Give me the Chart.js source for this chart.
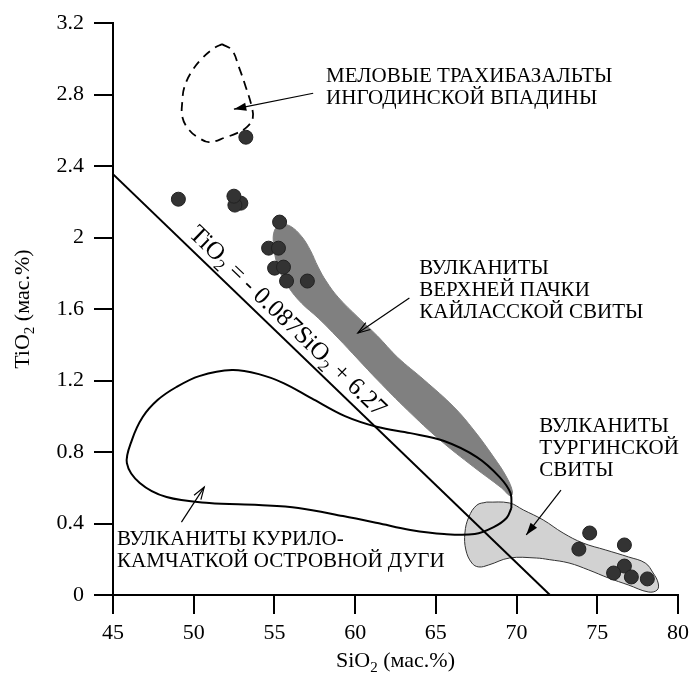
<!DOCTYPE html>
<html>
<head>
<meta charset="utf-8">
<script src="https://cdn.jsdelivr.net/npm/chart.js@4.4.0/dist/chart.umd.min.js"></script>
<style>
  html, body { margin: 0; background: #fff; }
  #wrap { width: 695px; height: 676px; }
</style>
</head>
<body>
<div id="wrap"><canvas id="chart"></canvas></div>
<script>
// оси
const xTicks = [45, 50, 55, 60, 65, 70, 75, 80];
const yTicks = [0, 0.4, 0.8, 1.2, 1.6, 2, 2.4, 2.8, 3.2];

// точки анализов (SiO2, TiO2)
const dotSiO2 = [53.23, 49.05, 52.92, 52.55, 52.49, 55.32, 54.64, 55.25, 55.01, 55.56, 55.75, 57.04,
                 74.53, 73.86, 76.68, 76.68, 76.01, 77.11, 78.10];
const dotTiO2 = [2.562, 2.215, 2.193, 2.182, 2.232, 2.087, 1.941, 1.941, 1.829, 1.835, 1.757, 1.757,
                 0.347, 0.257, 0.280, 0.162, 0.123, 0.101, 0.090];

// линия TiO2 = -0.087SiO2 + 6.27
const lineSiO2 = [45, 72.07];
const lineTiO2 = [2.355, 0];

// меловые трахибазальты (пунктир)
const melSiO2 = [51.75, 52.37, 52.80, 53.23, 53.60, 53.66, 53.29, 52.68, 52.00, 50.96, 50.34, 49.73, 49.30, 49.30, 49.42, 49.85, 50.53, 51.26, 51.75];
const melTiO2 = [3.083, 3.049, 2.954, 2.842, 2.730, 2.669, 2.618, 2.585, 2.562, 2.534, 2.557, 2.601, 2.674, 2.769, 2.842, 2.926, 3.004, 3.060, 3.083];

// кайласская свита (темное поле)
const kaiSiO2 = [55.44, 55.99, 56.67, 57.22, 57.71, 58.20, 58.94, 60.17, 61.39, 62.62, 64.28, 66.12, 67.35, 68.58, 69.38, 69.75, 69.62,
                 69.07, 67.35, 65.26, 63.24, 61.39, 60.17, 58.94, 57.71, 56.67, 55.87, 55.25, 54.95, 55.01, 55.44];
const kaiTiO2 = [2.076, 2.064, 2.008, 1.930, 1.835, 1.757, 1.667, 1.555, 1.449, 1.331, 1.203, 1.052, 0.923, 0.772, 0.660, 0.576, 0.554,
                 0.599, 0.716, 0.867, 1.035, 1.203, 1.320, 1.438, 1.550, 1.634, 1.723, 1.829, 1.958, 2.042, 2.076];

// тургинская свита (светлое поле)
const turSiO2 = [68.15, 69.56, 70.42, 71.65, 72.88, 74.11, 75.52, 76.93, 77.97, 78.46, 78.77, 78.71, 78.16, 76.93, 75.70, 74.47,
                 73.25, 72.02, 71.22, 69.56, 68.27, 67.66, 67.23, 66.86, 66.80, 67.04, 67.54, 68.15];
const turTiO2 = [0.520, 0.515, 0.476, 0.420, 0.347, 0.291, 0.252, 0.213, 0.179, 0.123, 0.067, 0.028, 0.017, 0.056, 0.095, 0.140,
                 0.179, 0.198, 0.207, 0.207, 0.168, 0.157, 0.179, 0.252, 0.347, 0.436, 0.503, 0.520];

// курило-камчатская дуга (контур)
const kkSiO2 = [69.68, 69.38, 68.58, 67.41, 65.51, 63.42, 61.39, 59.25, 56.48, 54.03, 50.96, 48.32, 46.66, 45.86, 46.17, 46.84,
                47.76, 48.93, 50.34, 52.37, 54.03, 55.56, 57.28, 59.37, 61.39, 63.42, 65.51, 67.54, 68.95, 69.62, 69.68];
const kkTiO2 = [0.487, 0.431, 0.380, 0.341, 0.341, 0.364, 0.403, 0.442, 0.487, 0.503, 0.515, 0.548, 0.627, 0.738, 0.867, 0.996,
                1.091, 1.164, 1.225, 1.259, 1.236, 1.186, 1.102, 1.001, 0.940, 0.906, 0.862, 0.772, 0.660, 0.571, 0.487];

// подписи: [SiO2, TiO2] левого края первой строки
const notes = [
  { lines: ['МЕЛОВЫЕ ТРАХИБАЗАЛЬТЫ', 'ИНГОДИНСКОЙ ВПАДИНЫ'], at: [58.2, 2.904],
    from: [57.4, 2.808], to: [52.49, 2.719], solid: true },
  { lines: ['ВУЛКАНИТЫ', 'ВЕРХНЕЙ ПАЧКИ', 'КАЙЛАССКОЙ СВИТЫ'], at: [63.97, 1.829],
    from: [63.36, 1.662], to: [60.17, 1.466], solid: false },
  { lines: ['ВУЛКАНИТЫ', 'ТУРГИНСКОЙ', 'СВИТЫ'], at: [71.4, 0.945],
    from: [72.75, 0.587], to: [70.6, 0.336], solid: true },
  { lines: ['ВУЛКАНИТЫ КУРИЛО-', 'КАМЧАТКОЙ ОСТРОВНОЙ ДУГИ'], at: [45.25, 0.308],
    from: [49.24, 0.408], to: [50.65, 0.604], solid: false },
];
const formulaAt = 49.3;

const zip = (xs, ys) => xs.map((v, i) => ({ x: v, y: ys[i] }));
const FONT = '"Liberation Serif", "Times New Roman", serif';

function rich(ctx, runs, x, y, size, align) {
  const big = size + 'px ' + FONT, small = Math.round(size * 0.68) + 'px ' + FONT;
  let w = 0;
  for (const [t, s] of runs) { ctx.font = s ? small : big; w += ctx.measureText(t).width; }
  let cx = align === 'center' ? x - w / 2 : x;
  ctx.textAlign = 'left';
  for (const [t, s] of runs) {
    ctx.font = s ? small : big;
    ctx.fillText(t, cx, y + (s ? size * 0.22 : 0));
    cx += ctx.measureText(t).width;
  }
}

function arrow(ctx, x1, y1, x2, y2, solid) {
  const a = Math.atan2(y2 - y1, x2 - x1), L = 13, w = 0.32;
  ctx.beginPath(); ctx.moveTo(x1, y1); ctx.lineTo(x2, y2); ctx.stroke();
  const p1 = [x2 - L * Math.cos(a - w), y2 - L * Math.sin(a - w)];
  const p2 = [x2 - L * Math.cos(a + w), y2 - L * Math.sin(a + w)];
  ctx.beginPath();
  if (solid) {
    ctx.moveTo(x2, y2); ctx.lineTo(p1[0], p1[1]); ctx.lineTo(p2[0], p2[1]); ctx.closePath(); ctx.fill();
  } else {
    ctx.moveTo(p1[0], p1[1]); ctx.lineTo(x2, y2); ctx.lineTo(p2[0], p2[1]); ctx.stroke();
  }
}

const annotate = {
  id: 'annotate',
  afterDatasetsDraw(chart) {
    const { ctx, chartArea: ca, scales: { x, y } } = chart;
    ctx.save();
    ctx.fillStyle = '#000';
    ctx.strokeStyle = '#000';
    ctx.lineWidth = 1.2;
    ctx.font = '21px ' + FONT;
    ctx.textAlign = 'left';
    ctx.textBaseline = 'middle';
    for (const n of notes) {
      const px = x.getPixelForValue(n.at[0]), py = y.getPixelForValue(n.at[1]);
      n.lines.forEach((t, i) => ctx.fillText(t, px, py + i * 22));
      arrow(ctx, x.getPixelForValue(n.from[0]), y.getPixelForValue(n.from[1]),
            x.getPixelForValue(n.to[0]), y.getPixelForValue(n.to[1]), n.solid);
    }

    // подпись линии
    const x1 = x.getPixelForValue(lineSiO2[0]), y1 = y.getPixelForValue(lineTiO2[0]);
    const x2 = x.getPixelForValue(lineSiO2[1]), y2 = y.getPixelForValue(lineTiO2[1]);
    const ang = Math.atan2(y2 - y1, x2 - x1);
    const k = -0.087, b = 6.27;
    const sx = x.getPixelForValue(formulaAt), sy = y.getPixelForValue(k * formulaAt + b);
    ctx.textBaseline = 'alphabetic';
    ctx.translate(sx + 8 * Math.sin(ang), sy - 8 * Math.cos(ang));
    ctx.rotate(ang);
    rich(ctx, [['TiO', 0], ['2', 1], [' = - 0.087SiO', 0], ['2', 1], [' + 6.27', 0]], 0, 0, 25, 'left');
    ctx.restore();

    // названия осей
    ctx.save();
    ctx.fillStyle = '#000';
    ctx.textBaseline = 'alphabetic';
    rich(ctx, [['SiO', 0], ['2', 1], [' (мас.%)', 0]], (ca.left + ca.right) / 2, ca.bottom + 72, 22, 'center');
    ctx.translate(29, (ca.top + ca.bottom) / 2);
    ctx.rotate(-Math.PI / 2);
    rich(ctx, [['TiO', 0], ['2', 1], [' (мас.%)', 0]], 0, 0, 22, 'center');
    ctx.restore();
  }
};

const tickFont = { family: FONT, size: 22 };

function draw() {
  new Chart(document.getElementById('chart'), {
    type: 'scatter',
    data: {
      datasets: [
        { data: zip(dotSiO2, dotTiO2), pointRadius: 7, pointBackgroundColor: '#333',
          pointBorderColor: '#222', pointBorderWidth: 1, showLine: false },
        { data: zip(lineSiO2, lineTiO2), showLine: true, borderColor: '#000', borderWidth: 2, pointRadius: 0 },
        { data: zip(kkSiO2, kkTiO2), showLine: true, tension: 0.35, borderColor: '#000', borderWidth: 2, pointRadius: 0 },
        { data: zip(melSiO2, melTiO2), showLine: true, tension: 0.4, borderColor: '#000', borderWidth: 1.8,
          borderDash: [9, 6], pointRadius: 0 },
        { data: zip(turSiO2, turTiO2), showLine: true, tension: 0.4, fill: 'shape', backgroundColor: '#d2d2d2',
          borderColor: '#333', borderWidth: 1, pointRadius: 0 },
        { data: zip(kaiSiO2, kaiTiO2), showLine: true, tension: 0.4, fill: 'shape', backgroundColor: '#808080',
          borderColor: '#808080', borderWidth: 1, pointRadius: 0 },
      ]
    },
    options: {
      responsive: true,
      maintainAspectRatio: false,
      animation: false,
      events: [],
      layout: { padding: { left: 0, right: 12, top: 23, bottom: 0 } },
      plugins: { legend: { display: false }, tooltip: { enabled: false } },
      scales: {
        x: {
          type: 'linear', min: 45, max: 80,
          afterBuildTicks: s => { s.ticks = xTicks.map(v => ({ value: v })); },
          afterFit: s => { s.height = 81; },
          border: { display: true, color: '#000', width: 2 },
          grid: { drawOnChartArea: false, tickLength: 19, color: '#000', lineWidth: 2 },
          ticks: { font: tickFont, color: '#000', padding: 6, maxRotation: 0, autoSkip: false,
                   callback: v => String(v) }
        },
        y: {
          type: 'linear', min: 0, max: 3.2,
          afterBuildTicks: s => { s.ticks = yTicks.map(v => ({ value: v })); },
          afterFit: s => { s.width = 113; },
          border: { display: true, color: '#000', width: 2 },
          grid: { drawOnChartArea: false, tickLength: 19, color: '#000', lineWidth: 2 },
          ticks: { font: tickFont, color: '#000', padding: 10, autoSkip: false,
                   callback: v => String(v) }
        }
      }
    },
    plugins: [annotate]
  });
}

Promise.all([
  document.fonts.load('22px "Liberation Serif"', '0123456789.'),
  document.fonts.load('22px "Liberation Serif"', 'МЕЛОВЫЕ мас')
]).then(draw, draw);
</script>
</body>
</html>
